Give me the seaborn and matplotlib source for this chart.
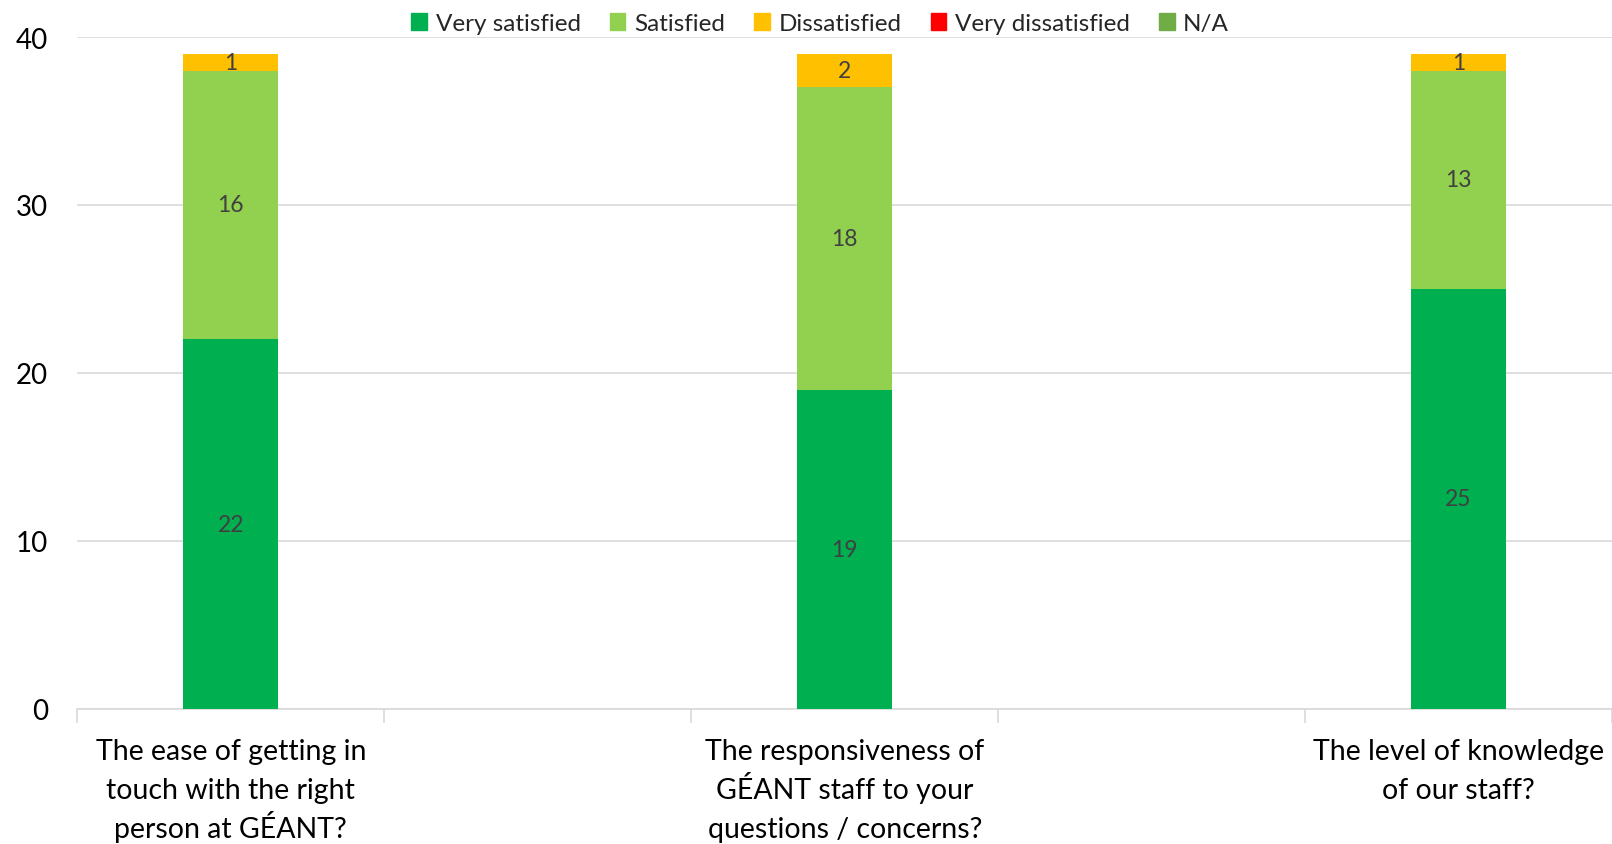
import matplotlib
matplotlib.use("Agg")
import matplotlib.pyplot as plt
import matplotlib.transforms as mtransforms
import pandas as pd
import seaborn as sns

# Data
questions = ["The ease of getting in\ntouch with the right\nperson at GÉANT?",
             "The responsiveness of\nGÉANT staff to your\nquestions / concerns?",
             "The level of knowledge\nof our staff?"]
very_satisfied = [22, 19, 25]
satisfied = [16, 18, 13]
dissatisfied = [1, 2, 1]
very_dissatisfied = [0, 0, 0]
not_applicable = [0, 0, 0]

series_names = ["Very satisfied", "Satisfied", "Dissatisfied", "Very dissatisfied", "N/A"]
series_colors = ["#00B050", "#92D050", "#FFC000", "#FF0000", "#70AD47"]

# Excel layout leaves an empty slot between the questions
slots = [questions[0], "gap1", questions[1], "gap2", questions[2]]

df = pd.DataFrame({
    "question": questions,
    "Very satisfied": very_satisfied,
    "Satisfied": satisfied,
    "Dissatisfied": dissatisfied,
    "Very dissatisfied": very_dissatisfied,
    "N/A": not_applicable,
})

sns.set_style("white")
plt.rcParams["font.family"] = ["Lato", "DejaVu Sans"]

fig = plt.figure(figsize=(16.12, 8.45), dpi=100)
ax = fig.add_axes([0.048, 0.16, 0.952, 0.795])

bottom = [0, 0, 0]
for name, color in zip(series_names, series_colors):
    sns.barplot(data=df, x="question", y=name, order=slots, color=color,
                width=0.31, bottom=bottom, ax=ax, label=name,
                saturation=1, linewidth=0, zorder=3)
    cont = ax.containers[-1]
    labels = [str(v) if v > 0 else "" for v in df[name]]
    ax.bar_label(cont, labels=labels, label_type="center", fontsize=16.5,
                 color="#404040")
    bottom = [b + v for b, v in zip(bottom, df[name])]

ax.set_ylim(0, 40)
ax.set_xlim(-0.5, 4.5)
ax.set_yticks([0, 10, 20, 30, 40])
ax.yaxis.grid(True, color="#D9D9D9", linewidth=1.2, zorder=0)
ax.tick_params(axis="y", labelsize=20, length=0, pad=21, labelcolor="#000000")

# tick marks at slot boundaries
ax.set_xticks([-0.5, 0.5, 1.5, 2.5, 3.5, 4.5])
ax.set_xticklabels([])
ax.tick_params(axis="x", which="major", bottom=True, length=10,
               color="#D9D9D9", width=1.2, direction="out")

# question labels, one text per line so the spacing stays even
trans = mtransforms.blended_transform_factory(ax.transData, ax.transAxes)
for i, q in zip([0, 2, 4], questions):
    for j, line in enumerate(q.split("\n")):
        t = ax.annotate(line, xy=(i, 0), xycoords=trans,
                        xytext=(0, -36.5 - j * 28), textcoords="offset points",
                        ha="center", va="baseline", fontsize=20.5, color="#000000")
        t.set_clip_on(False)

ax.set_xlabel("")
ax.set_ylabel("")
for side in ["top", "right", "left"]:
    ax.spines[side].set_visible(False)
ax.spines["bottom"].set_color("#D9D9D9")
ax.spines["bottom"].set_linewidth(1.2)

handles = [plt.Rectangle((0, 0), 1, 1, color=c) for c in series_colors]
ax.legend(handles, series_names, loc="lower center", bbox_to_anchor=(0.484, 0.99),
          ncol=5, frameon=False, fontsize=17.5, handlelength=0.65, handleheight=0.65,
          handletextpad=0.35, columnspacing=1.2, borderaxespad=0)

fig.savefig("out.png", dpi=100)
